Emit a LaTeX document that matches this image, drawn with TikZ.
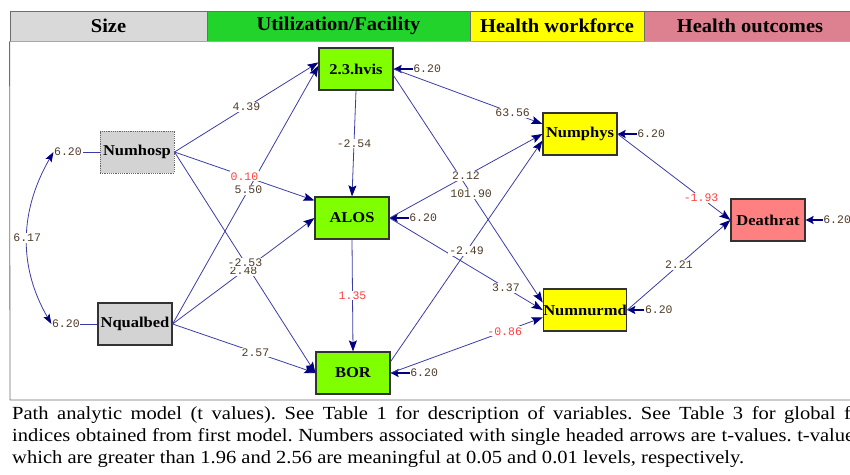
\documentclass[tikz,border=0pt]{standalone}
\usepackage{fontspec}
\setmainfont{Liberation Serif}
\newfontfamily\tvalfont{Liberation Mono}
\newfontfamily\hdrfont[FakeStretch=1.05]{Liberation Serif}
\newfontfamily\varfont[FakeStretch=1.1]{Liberation Serif}
\newfontfamily\capfont[FakeStretch=1.11]{Liberation Serif}
\usetikzlibrary{arrows.meta,positioning}

\definecolor{pathblue}{RGB}{60,60,165}
\definecolor{tipnavy}{RGB}{0,0,128}
\definecolor{tvalbrown}{RGB}{80,60,40}
\definecolor{tvalred}{RGB}{255,64,64}
\definecolor{hdrgray}{RGB}{217,217,217}
\definecolor{hdrgreen}{RGB}{34,211,43}
\definecolor{hdryellow}{RGB}{255,255,0}
\definecolor{hdrpink}{RGB}{221,129,144}
\definecolor{exogray}{RGB}{211,211,211}
\definecolor{facgreen}{RGB}{128,255,0}
\definecolor{wfyellow}{RGB}{255,255,0}
\definecolor{outsalmon}{RGB}{255,128,128}
\definecolor{rulegray}{RGB}{110,110,110}

\begin{document}
\begin{tikzpicture}[
    x=1pt, y=1pt,
    hdrcell/.style={draw=rulegray, line width=0.8pt, minimum height=30pt, inner sep=0pt, font=\hdrfont\fontsize{19.5}{22}\selectfont\bfseries},
    varbox/.style={draw=black!80, line width=1.2pt, minimum width=74pt, minimum height=42pt, inner sep=0pt, font=\varfont\fontsize{15}{16}\selectfont\bfseries},
    tval/.style={fill=white, inner sep=1pt, text=tvalbrown, font=\tvalfont\fontsize{11.5}{12}\selectfont},
    tvalneg/.style={tval, text=tvalred},
    errval/.style={inner sep=0.5pt, text=tvalbrown, font=\tvalfont\fontsize{11.5}{12}\selectfont},
    effect/.style={draw=pathblue, line width=0.8pt, -{Stealth[length=11pt, width=8pt, inset=2pt, color=tipnavy]}},
    errarr/.style={draw=tipnavy, line width=1.6pt, -{Stealth[length=8pt, width=8pt, inset=1.5pt]}},
    errline/.style={draw=pathblue, line width=0.8pt},
    covarr/.style={draw=pathblue, line width=0.8pt, {Stealth[length=10pt, width=7pt, inset=2pt, color=tipnavy]}-{Stealth[length=10pt, width=7pt, inset=2pt, color=tipnavy]}}
]
    \useasboundingbox (0,0) rectangle (850,-474);
    \clip (0,0) rectangle (850,-474);

    % --- En-tete : groupes de variables ---
    \node[hdrcell, fill=hdrgray, minimum width=197pt] (hsize) at (108.5,-26) {Size};
    \node[hdrcell, fill=hdrgreen, minimum width=263pt] (hutil) at (338.5,-26) {Utilization/Facility};
    \node[hdrcell, fill=hdryellow, minimum width=174pt] (hwork) at (557,-26) {Health workforce};
    \node[hdrcell, fill=hdrpink, minimum width=212pt] (hout) at (750,-26) {Health outcomes};
    \draw[black!35, line width=1.5pt] (hsize.south west) -- (hout.south east);
    \coordinate (capcorner) at (10,-400);
    \coordinate (capend) at (850,-400);
    \draw[rulegray, line width=0.8pt] (hsize.south west) -- (capcorner) -- (capend);

    % --- Variables ---
    \node[varbox, fill=exogray, draw=black!60, densely dotted, line width=1pt] (numhosp) at (137,-152) {Numhosp};
    \node[varbox, fill=exogray] (nqualbed) at (135,-324) {Nqualbed};
    \node[varbox, fill=facgreen] (hvis) at (356,-69) {2.3.hvis};
    \node[varbox, fill=facgreen] (alos) at (352,-218) {ALOS};
    \node[varbox, fill=facgreen] (bor) at (353,-373) {BOR};
    \node[varbox, fill=wfyellow] (numphys) at (580,-134) {Numphys};
    \node[varbox, fill=wfyellow] (numnurmd) at (585,-310) {Numnurmd};
    \node[varbox, fill=outsalmon] (deathrat) at (768,-220) {Deathrat};

    % --- Termes d'erreur ---
    \node[errval, left=17pt of numhosp] (numhospe) {6.20};
    \node[errval, left=17pt of nqualbed] (nqualbede) {6.20};
    \node[errval, right=19pt of hvis] (hvise) {6.20};
    \node[errval, right=19pt of alos] (alose) {6.20};
    \node[errval, right=19pt of bor] (bore) {6.20};
    \node[errval, right=19pt of numphys] (numphyse) {6.20};
    \node[errval, right=17pt of numnurmd] (numnurmde) {6.20};
    \node[errval, right=17pt of deathrat] (deathrate) {6.20};

    \draw[errline] (numhospe) -- (numhosp);
    \draw[errline] (nqualbede) -- (nqualbed);
    \draw[errarr] (hvise) -- (hvis);
    \draw[errarr] (alose) -- (alos);
    \draw[errarr] (bore) -- (bor);
    \draw[errarr] (numphyse) -- (numphys);
    \draw[errarr] (numnurmde) -- (numnurmd);
    \draw[errarr] (deathrate) -- (deathrat);

    \draw[covarr] (numhospe.west) to[out=-120, in=120] (nqualbede.west);
    \path (numhospe.west) to[out=-120, in=120] node[tval, pos=0.5] {6.17} (nqualbede.west);

    % --- Effets directs ---
    \draw[effect] (numhosp.east) -- (hvis.170);
    \draw[effect] (nqualbed.east) -- (hvis.175);
    \draw[effect] (numhosp.east) -- (alos.155);
    \draw[effect] (nqualbed.east) -- (alos.west);
    \draw[effect] (numhosp.east) -- (bor.west);
    \draw[effect] (nqualbed.east) -- (bor.west);
    \draw[effect] (hvis.south) -- (alos.north);
    \draw[effect] (alos.south) -- (bor.north);
    \draw[effect] (hvis.east) -- (numphys.165);
    \draw[effect] (hvis.-10) -- (numnurmd.170);
    \draw[effect] (alos.east) -- (numphys.west);
    \draw[effect] (alos.east) -- (numnurmd.west);
    \draw[effect] (bor.17) -- (numphys.190);
    \draw[effect] (bor.east) -- (numnurmd.190);
    \draw[effect] (numphys.east) -- (deathrat.west);
    \draw[effect] (numnurmd.east) -- (deathrat.west);

    % --- Valeurs t ---
    \path (numhosp.east) -- node[tval, pos=0.5] {4.39} (hvis.170);
    \path (nqualbed.east) -- node[tval, pos=0.52] {5.50} (hvis.175);
    \path (numhosp.east) -- node[tvalneg, pos=0.5] {0.10} (alos.155);
    \path (nqualbed.east) -- node[tval, pos=0.5] {2.48} (alos.west);
    \path (numhosp.east) -- node[tval, pos=0.5] {-2.53} (bor.west);
    \path (nqualbed.east) -- node[tval, pos=0.58] {2.57} (bor.west);
    \path (hvis.south) -- node[tval, pos=0.5] {-2.54} (alos.north);
    \path (alos.south) -- node[tvalneg, pos=0.5] {1.35} (bor.north);
    \path (hvis.east) -- node[tval, pos=0.8] {63.56} (numphys.165);
    \path (hvis.-10) -- node[tval, pos=0.52] {101.90} (numnurmd.170);
    \path (alos.east) -- node[tval, pos=0.5] {2.12} (numphys.west);
    \path (alos.east) -- node[tval, pos=0.76] {3.37} (numnurmd.west);
    \path (bor.17) -- node[tval, pos=0.5] {-2.49} (numphys.190);
    \path (bor.east) -- node[tvalneg, pos=0.75] {-0.86} (numnurmd.190);
    \path (numphys.east) -- node[tvalneg, pos=0.74] {-1.93} (deathrat.west);
    \path (numnurmd.east) -- node[tval, pos=0.5] {2.21} (deathrat.west);

    % --- Legende ---
    \node[anchor=north west, inner sep=0pt, text width=850pt, align=justify,
          font=\capfont\fontsize{18.5}{22}\selectfont] (caption) at (12,-406) {\hyphenpenalty=10000\frenchspacing
        Path analytic model (t values). See Table 1 for description of variables. See Table 3 for global fit\linebreak
        indices obtained from first model. Numbers associated with single headed arrows are t-values. t-values\linebreak
        which are greater than 1.96 and 2.56 are meaningful at 0.05 and 0.01 levels, respectively.};

\end{tikzpicture}
\end{document}
